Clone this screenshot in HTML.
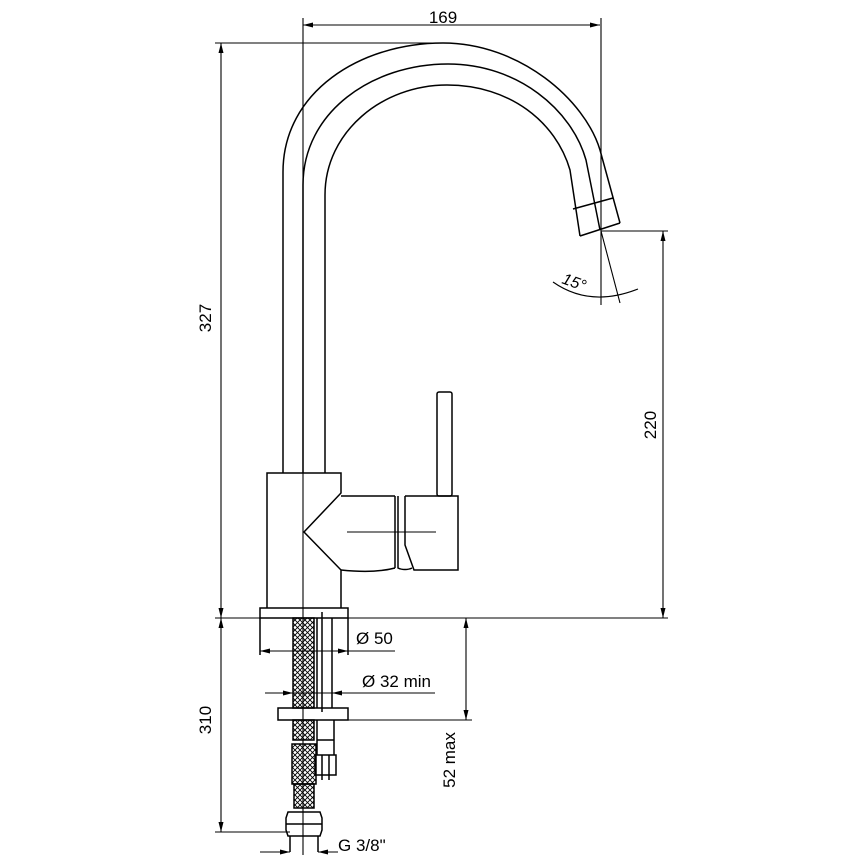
<!DOCTYPE html>
<html><head><meta charset="utf-8"><style>
html,body{margin:0;padding:0;background:#fff;}
svg{display:block}
text{font-family:"Liberation Sans",sans-serif;fill:#000;}
</style></head><body>
<svg width="862" height="862" viewBox="0 0 862 862" xmlns="http://www.w3.org/2000/svg">
<defs>
<pattern id="br" width="5" height="5" patternUnits="userSpaceOnUse">
<path d="M0,0 L5,5 M5,0 L0,5" stroke="#000" stroke-width="0.9"/>
</pattern>
<marker id="a" viewBox="0 0 10 6" refX="10" refY="3" markerWidth="11" markerHeight="6" orient="auto-start-reverse" markerUnits="userSpaceOnUse">
<path d="M0,0.5 L10,3 L0,5.5 z" fill="#000"/>
</marker>
</defs>
<g fill="none" stroke="#000" stroke-width="1.5">
<path d="M283,473 L283,172 C283,92 360,43 443,43 C520,43 585,100 600,150 L620,223"/>
<path d="M303,473 L303,185 C303,112 372,64 448,64 C518,64 572,110 586,160 L600,230"/>
<path d="M325,473 L325,195 C325,132 382,85 447,85 C510,85 556,122 570,170 L580,236"/>
<path d="M580,236 L620,223 M573,209 L613,198"/>
<path d="M267,608 L267,473 L341,473 L341,493 L304,532 L341,570 L341,608"/>
<path d="M341,496 L395,496 M341,570 C360,572 380,572 395,568 M395,496 L395,568"/>
<path d="M398,496 L398,568 C402,570 408,570 412,568"/>
<path d="M405,496 L458,496 L458,570 L414,570 L405,545 L405,496"/>
<rect x="437" y="392" width="15" height="104" rx="2"/>
<rect x="260" y="608" width="88" height="10"/>
<path d="M260,618 L260,655 M348,618 L348,655"/>
<rect x="293" y="618" width="21" height="90" fill="url(#br)"/>
<path d="M317,618 L317,708 M332,618 L332,708 M322,612 L322,712"/>
<rect x="278" y="708" width="70" height="12"/>
<rect x="293" y="720" width="21" height="20" fill="url(#br)"/>
<rect x="292" y="744" width="24" height="40" fill="url(#br)"/>
<rect x="294" y="784" width="20" height="24" fill="url(#br)"/>
<path d="M317,720 L317,755 M334,720 L334,755 M317,740 L334,740"/>
<rect x="315" y="755" width="21" height="20"/>
<path d="M322,755 L322,780 M329,755 L329,780"/>
<path d="M288,812 L320,812 L322,818 L322,830 L320,836 L288,836 L286,830 L286,818 z M286,824 L322,824"/>
<path d="M290,836 L290,852 M318,836 L318,852"/>
<path d="M303,18 L303,855" stroke-width="1.1"/>
<path d="M601,18 L601,305" stroke-width="1.1"/>
<path d="M347,532 L436,532" stroke-width="1.1"/>
</g>
<g fill="none" stroke="#000" stroke-width="1.1">
<path d="M303,25 L600,25" marker-start="url(#a)" marker-end="url(#a)"/>
<path d="M215,43 L443,43"/>
<path d="M221,43 L221,618" marker-start="url(#a)" marker-end="url(#a)"/>
<path d="M215,618 L668,618"/>
<path d="M221,618 L221,832" marker-start="url(#a)" marker-end="url(#a)"/>
<path d="M215,832 L290,832"/>
<path d="M601,231 L668,231"/>
<path d="M663,231 L663,618" marker-start="url(#a)" marker-end="url(#a)"/>
<path d="M348,720 L472,720"/>
<path d="M466,618 L466,720" marker-start="url(#a)" marker-end="url(#a)"/>
<path d="M260,651 L348,651" marker-start="url(#a)" marker-end="url(#a)"/>
<path d="M348,651 L395,651"/>
<path d="M265,693 L293,693" marker-end="url(#a)"/>
<path d="M360,693 L332,693" marker-end="url(#a)"/>
<path d="M293,693 L435,693"/>
<path d="M260,852 L290,852" marker-end="url(#a)"/>
<path d="M338,852 L318,852" marker-end="url(#a)"/>
<path d="M601,231 L620,303"/>
<path d="M553,282 Q590,308 638,289"/>
</g>
<text x="443" y="23" font-size="17" text-anchor="middle">169</text>
<text transform="translate(211,318) rotate(-90)" font-size="17" text-anchor="middle">327</text>
<text transform="translate(211,720) rotate(-90)" font-size="17" text-anchor="middle">310</text>
<text transform="translate(656,425) rotate(-90)" font-size="17" text-anchor="middle">220</text>
<text transform="translate(455,760) rotate(-90)" font-size="17" text-anchor="middle">52 max</text>
<text x="356" y="644" font-size="17">Ø 50</text>
<text x="362" y="687" font-size="17">Ø 32  min</text>
<text x="338" y="851" font-size="17">G 3/8"</text>
<text transform="translate(561,283) rotate(20)" font-size="16" font-style="italic">15°</text>
</svg>
</body></html>
